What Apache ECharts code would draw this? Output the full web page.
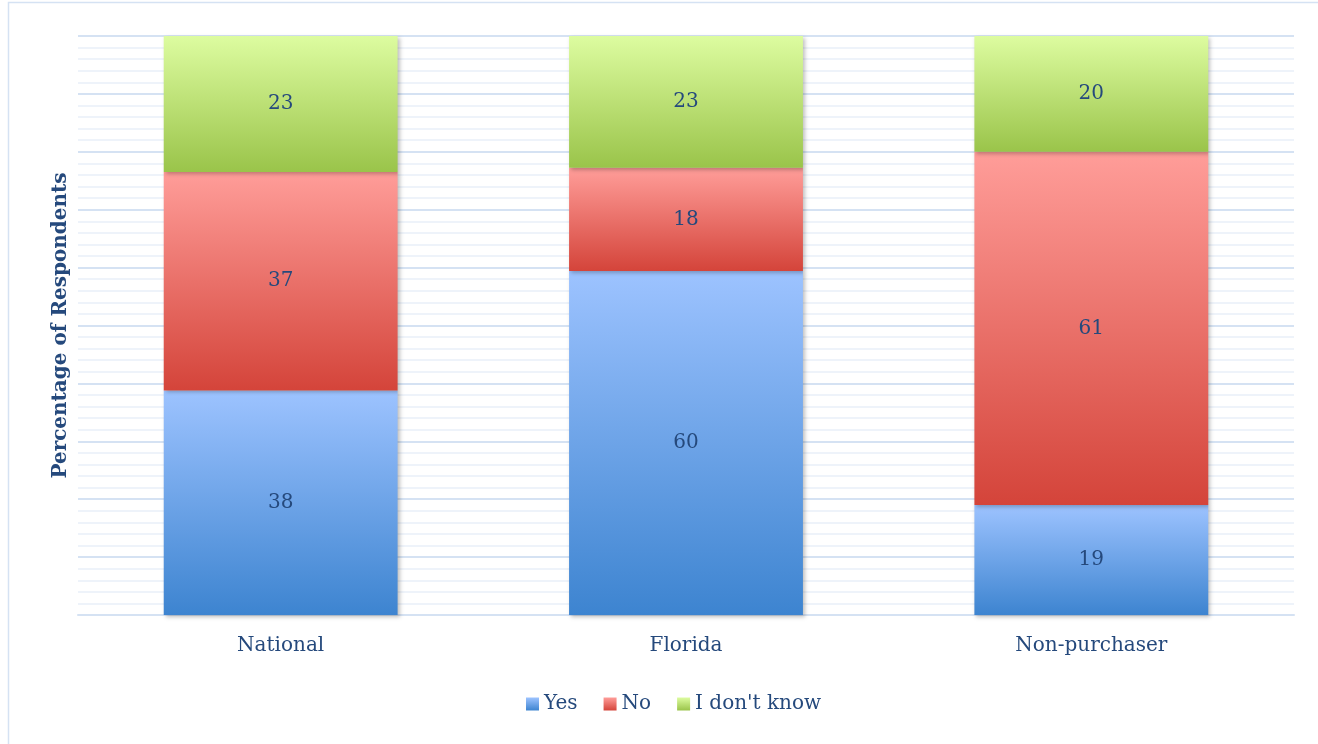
<!DOCTYPE html>
<html>
<head>
<meta charset="utf-8">
<script src="https://cdn.jsdelivr.net/npm/echarts@6/dist/echarts.min.js"></script>
<style>
html,body{margin:0;padding:0;background:#fff;}
#chart{width:1318px;height:744px;}
</style>
</head>
<body>
<div id="chart"></div>
<script>
const categories = ['National', 'Florida', 'Non-purchaser'];
const yesValues = [38, 60, 19];
const noValues = [37, 18, 61];
const dontKnowValues = [23, 23, 20];
const seriesNames = ['Yes', 'No', "I don't know"];

const raw = [yesValues, noValues, dontKnowValues];
const totals = categories.map((c, i) => raw.reduce((s, arr) => s + arr[i], 0));
const pct = raw.map(arr => arr.map((v, i) => v / totals[i] * 100));

const textColor = '#25497C';
const fontFam = '"DejaVu Serif", "Liberation Serif", serif';

function grad(top, bottom) {
  return new echarts.graphic.LinearGradient(0, 0, 0, 1, [
    { offset: 0, color: top }, { offset: 1, color: bottom }
  ]);
}
const colors = [
  grad('#9DC3FF', '#3D84D0'),
  grad('#FF9D99', '#D4443A'),
  grad('#DDFCA0', '#9AC44A')
];
const legendColors = [
  grad('#9DC3FF', '#3D84D0'),
  grad('#FF9D99', '#D4443A'),
  grad('#DDFCA0', '#9AC44A')
];

const chart = echarts.init(document.getElementById('chart'), null, { renderer: 'canvas' });
chart.setOption({
  animation: false,
  backgroundColor: '#fff',
  graphic: [{
    type: 'rect',
    shape: { x: 8.5, y: 2.5, width: 1400, height: 800 },
    style: { fill: 'none', stroke: '#D5E2F3', lineWidth: 1.5 },
    silent: true
  }],
  grid: { left: 78, right: 24, top: 36, bottom: 129 },
  legend: {
    bottom: 25,
    left: 521,
    itemWidth: 13,
    itemHeight: 13,
    itemGap: 26,
    icon: 'rect',
    textStyle: { color: textColor, fontFamily: fontFam, fontSize: 20 },
    data: seriesNames.map((n, i) => ({ name: n, itemStyle: { color: legendColors[i] } }))
  },
  xAxis: {
    type: 'category',
    data: categories,
    axisTick: { show: false },
    axisLine: { show: true, lineStyle: { color: '#D5E2F3', width: 2 } },
    axisLabel: { color: textColor, fontFamily: fontFam, fontSize: 20, margin: 21 }
  },
  yAxis: {
    type: 'value',
    min: 0,
    max: 100,
    interval: 10,
    name: 'Percentage of Respondents',
    nameLocation: 'middle',
    nameGap: 7,
    nameTextStyle: { color: textColor, fontFamily: fontFam, fontSize: 20, fontWeight: 'bold' },
    axisLabel: { show: false },
    axisTick: { show: false },
    axisLine: { show: false },
    splitLine: { show: true, lineStyle: { color: '#D5E2F3', width: 2 } },
    minorTick: { show: false, splitNumber: 5 },
    minorSplitLine: { show: true, lineStyle: { color: '#EEF3FA', width: 2 } }
  },
  series: seriesNames.map((name, si) => ({
    name: name,
    type: 'bar',
    stack: 'total',
    barWidth: '57.7%',
    data: pct[si],
    itemStyle: {
      color: colors[si],
      shadowColor: 'rgba(0,0,0,0.25)',
      shadowBlur: 4,
      shadowOffsetX: 2,
      shadowOffsetY: 2
    },
    label: {
      show: true,
      position: 'inside',
      color: textColor,
      fontFamily: fontFam,
      fontSize: 20,
      formatter: p => String(raw[si][p.dataIndex])
    }
  }))
});
</script>
</body>
</html>
